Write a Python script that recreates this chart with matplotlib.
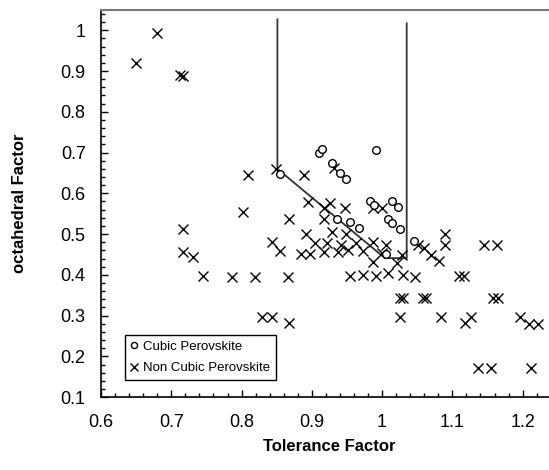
import matplotlib
matplotlib.use('Agg')
import matplotlib.pyplot as plt
from matplotlib.ticker import MultipleLocator
import numpy as np

plt.rcParams['font.family'] = ['Liberation Sans', 'DejaVu Sans']

# cubic perovskites (tolerance factor, octahedral factor)
cubic_t = [0.855, 0.910, 0.915, 0.991, 0.928, 0.940, 0.948, 0.983, 0.988, 1.014,
           1.023, 0.936, 0.955, 0.967, 1.008, 1.014, 1.025, 1.006, 1.045]
cubic_o = [0.648, 0.700, 0.708, 0.706, 0.675, 0.650, 0.634, 0.580, 0.572, 0.581,
           0.567, 0.537, 0.529, 0.515, 0.536, 0.528, 0.512, 0.451, 0.484]

# non cubic perovskites
non_t = [0.650, 0.680, 0.717, 0.712, 0.809, 0.849, 0.889, 0.802, 0.867, 0.895,
         0.926, 0.917, 0.932, 0.947, 0.987, 1.000, 0.917, 0.929, 0.717, 0.717,
         0.731, 0.745, 0.787, 0.819, 0.866, 0.843, 0.855, 0.892, 0.904, 0.921,
         0.942, 0.949, 0.963, 0.987, 1.006, 0.884, 0.898, 0.917, 0.937, 0.951,
         0.973, 1.000, 0.987, 1.021, 1.028, 1.051, 1.059, 1.069, 1.081, 1.089,
         1.089, 1.145, 1.164, 0.954, 0.973, 0.991, 1.008, 1.030, 1.047, 1.110,
         1.116, 1.025, 1.030, 1.058, 1.063, 1.158, 1.165, 0.829, 0.843, 0.867,
         1.025, 1.084, 1.118, 1.126, 1.196, 1.209, 1.222, 1.136, 1.155, 1.212]
non_o = [0.920, 0.994, 0.889, 0.890, 0.645, 0.660, 0.645, 0.554, 0.536, 0.579,
         0.577, 0.565, 0.662, 0.565, 0.565, 0.565, 0.536, 0.506, 0.512, 0.457,
         0.445, 0.397, 0.395, 0.395, 0.395, 0.480, 0.459, 0.499, 0.478, 0.478,
         0.474, 0.499, 0.478, 0.480, 0.474, 0.451, 0.451, 0.455, 0.455, 0.461,
         0.459, 0.454, 0.432, 0.429, 0.449, 0.474, 0.466, 0.449, 0.433, 0.499,
         0.474, 0.474, 0.474, 0.398, 0.400, 0.398, 0.405, 0.400, 0.395, 0.396,
         0.398, 0.342, 0.342, 0.342, 0.342, 0.342, 0.342, 0.296, 0.296, 0.281,
         0.296, 0.296, 0.281, 0.296, 0.296, 0.279, 0.279, 0.171, 0.171, 0.171]

# boundary of the cubic region
bound_t = [0.851, 0.851, 1.004, 1.035, 1.035]
bound_o = [1.027, 0.660, 0.441, 0.441, 1.017]

fig = plt.figure(figsize=(5.49, 4.70), dpi=100)
ax = fig.add_axes([0.184, 0.155, 0.832, 0.824])

ax.plot(bound_t, bound_o, color='#333333', lw=1.3, zorder=1)
ax.plot(non_t, non_o, ls='none', marker='x', ms=6.5, mew=1.0, color='black',
        label='Non Cubic Perovskite', zorder=2)
ax.plot(cubic_t, cubic_o, ls='none', marker='o', ms=5.5, mew=1.0, mec='black',
        mfc='white', label='Cubic Perovskite', zorder=3)

ax.set_xlim(0.6, 1.25)
ax.set_ylim(0.1, 1.05)
ax.xaxis.set_minor_locator(MultipleLocator(0.02))
ax.yaxis.set_minor_locator(MultipleLocator(0.02))
ax.set_xticks(np.arange(0.6, 1.21, 0.1))
ax.set_xticklabels(['0.6', '0.7', '0.8', '0.9', '1', '1.1', '1.2'])
ax.set_yticks(np.arange(0.1, 1.01, 0.1))
ax.set_yticklabels(['0.1', '0.2', '0.3', '0.4', '0.5', '0.6', '0.7', '0.8', '0.9', '1'])
ax.tick_params(which='major', direction='in', length=5, width=1, labelsize=13, pad=12)
ax.tick_params(which='minor', direction='in', length=3, width=1)
ax.tick_params(axis='y', which='major', pad=11)

ax.spines['right'].set_visible(False)
ax.spines['top'].set_color('#777777')
ax.spines['top'].set_linewidth(1.5)
ax.spines['left'].set_linewidth(1.2)
ax.spines['bottom'].set_linewidth(1.2)

ax.set_xlabel('Tolerance Factor', fontsize=12, fontweight='bold', labelpad=6)
ax.set_ylabel('octahedral Factor', fontsize=12, fontweight='bold', labelpad=24)

h, l = ax.get_legend_handles_labels()
leg = ax.legend(h[::-1], l[::-1], loc='lower left', bbox_to_anchor=(0.053, 0.044),
                borderaxespad=0, fancybox=False, edgecolor='black', framealpha=1,
                fontsize=9.5, handlelength=0.5, handletextpad=0.4, borderpad=0.45,
                labelspacing=0.7, markerscale=0.8)
leg.get_frame().set_linewidth(1.0)

fig.savefig('out.png', dpi=100)
